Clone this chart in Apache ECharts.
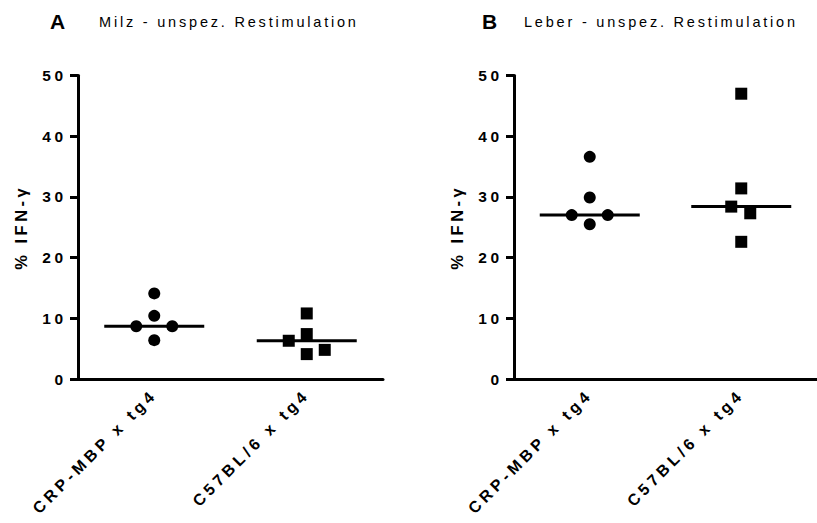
<!DOCTYPE html>
<html>
<head>
<meta charset="utf-8">
<script src="https://cdn.jsdelivr.net/npm/echarts@6/dist/echarts.min.js"></script>
<style>
  html, body { margin: 0; padding: 0; background: #fff; }
  #chart { width: 817px; height: 523px; }
  /* Prism-style widely tracked lettering */
  #chart svg text { letter-spacing: 3px; }
  #chart svg text[style*="15.5px"] { letter-spacing: 3.8px; }
  #chart svg text[style*="16px"] { letter-spacing: 4px; }
  #chart svg text[style*="16.5px"] { letter-spacing: 3.5px; }
  #chart svg text[style*="14.5px"] { letter-spacing: 2.8px; }
  #chart svg text[style*="21px"] { letter-spacing: 0; }
</style>
</head>
<body>
<div id="chart"></div>
<script>
// Groups on the x axis
const categories = ['CRP-MBP x tg4', 'C57BL/6 x tg4'];
// % IFN-γ per animal, spleen (Milz)
const milzCRP = [14.1, 10.4, 8.7, 8.7, 6.4];
const milzC57 = [10.8, 7.4, 6.3, 4.8, 4.1];
// % IFN-γ per animal, liver (Leber)
const leberCRP = [36.6, 29.9, 27.0, 27.0, 25.5];
const leberC57 = [47.0, 31.4, 28.4, 27.3, 22.6];
// y axis ticks
const yTicks = [0, 10, 20, 30, 40, 50];

// horizontal spread of overlapping dots (pixels), kept apart from the values
const spreadMilzCRP = [0, 0, -18, 18, 0];
const spreadMilzC57 = [0, 0, -18, 18, 0];
const spreadLeberCRP = [0, 0, -18, 18, 0];
const spreadLeberC57 = [0, 0, -10, 9, 0];

const FONT = "'Liberation Sans', Arial, sans-serif";

function median(arr) {
  const s = arr.slice().sort((a, b) => a - b);
  const m = Math.floor(s.length / 2);
  return s.length % 2 ? s[m] : (s[m - 1] + s[m]) / 2;
}

function dots(values, catIdx, spread) {
  return values.map((v, i) => ({
    value: [categories[catIdx], v],
    symbolOffset: [spread[i], 0]
  }));
}

function scatter(gridIdx, values, catIdx, spread, symbol) {
  return {
    type: 'scatter',
    xAxisIndex: gridIdx,
    yAxisIndex: gridIdx,
    symbol: symbol,
    symbolSize: 12,
    itemStyle: { color: '#000', opacity: 1 },
    silent: true,
    z: 3,
    data: dots(values, catIdx, spread)
  };
}

function medianBars(gridIdx, groups) {
  return {
    type: 'custom',
    xAxisIndex: gridIdx,
    yAxisIndex: gridIdx,
    silent: true,
    z: 4,
    data: groups.map((g, i) => [categories[i], median(g)]),
    renderItem: function (params, api) {
      const p = api.coord([api.value(0), api.value(1)]);
      return {
        type: 'line',
        shape: { x1: p[0] - 50, y1: p[1], x2: p[0] + 50, y2: p[1] },
        style: { stroke: '#000', lineWidth: 3 }
      };
    }
  };
}

function xAxis(gridIdx) {
  return {
    type: 'category',
    gridIndex: gridIdx,
    data: categories,
    boundaryGap: true,
    axisLine: { lineStyle: { color: '#000', width: 3 } },
    axisTick: { alignWithLabel: true, length: 7, lineStyle: { color: '#000', width: 3 } },
    axisLabel: {
      rotate: 45, margin: 13, interval: 0,
      color: '#000', fontFamily: FONT, fontWeight: 'bold', fontSize: 16
    },
    splitLine: { show: false }
  };
}

function yAxis(gridIdx) {
  return {
    type: 'value',
    gridIndex: gridIdx,
    min: yTicks[0],
    max: yTicks[yTicks.length - 1],
    interval: yTicks[1] - yTicks[0],
    name: '% IFN-γ',
    nameLocation: 'middle',
    nameGap: 49,
    nameTextStyle: { color: '#000', fontFamily: FONT, fontWeight: 'bold', fontSize: 16.5 },
    axisLine: { show: true, lineStyle: { color: '#000', width: 3 } },
    axisTick: { show: true, length: 8, lineStyle: { color: '#000', width: 3 } },
    axisLabel: { margin: 11, color: '#000', fontFamily: FONT, fontWeight: 'bold', fontSize: 15.5 },
    splitLine: { show: false }
  };
}

const chart = echarts.init(document.getElementById('chart'), null, { renderer: 'svg' });

const panelLetter = { fontFamily: FONT, fontWeight: 'bold', fontSize: 21, color: '#000' };
const panelTitle = { fontFamily: FONT, fontWeight: 'normal', fontSize: 14.5, color: '#000' };

chart.setOption({
  backgroundColor: '#fff',
  animation: false,
  title: [
    { text: 'A', left: 50, top: 11, padding: 0, textStyle: panelLetter },
    { text: 'Milz - unspez. Restimulation', left: 99, top: 14, padding: 0, textStyle: panelTitle },
    { text: 'B', left: 482, top: 11, padding: 0, textStyle: panelLetter },
    { text: 'Leber - unspez. Restimulation', left: 524, top: 14, padding: 0, textStyle: panelTitle }
  ],
  grid: [
    { left: 78, top: 75.5, width: 305, height: 303.5 },
    { left: 514, top: 75.5, width: 304, height: 303.5 }
  ],
  xAxis: [xAxis(0), xAxis(1)],
  yAxis: [yAxis(0), yAxis(1)],
  series: [
    scatter(0, milzCRP, 0, spreadMilzCRP, 'circle'),
    scatter(0, milzC57, 1, spreadMilzC57, 'rect'),
    medianBars(0, [milzCRP, milzC57]),
    scatter(1, leberCRP, 0, spreadLeberCRP, 'circle'),
    scatter(1, leberC57, 1, spreadLeberC57, 'rect'),
    medianBars(1, [leberCRP, leberC57])
  ]
});
</script>
</body>
</html>
